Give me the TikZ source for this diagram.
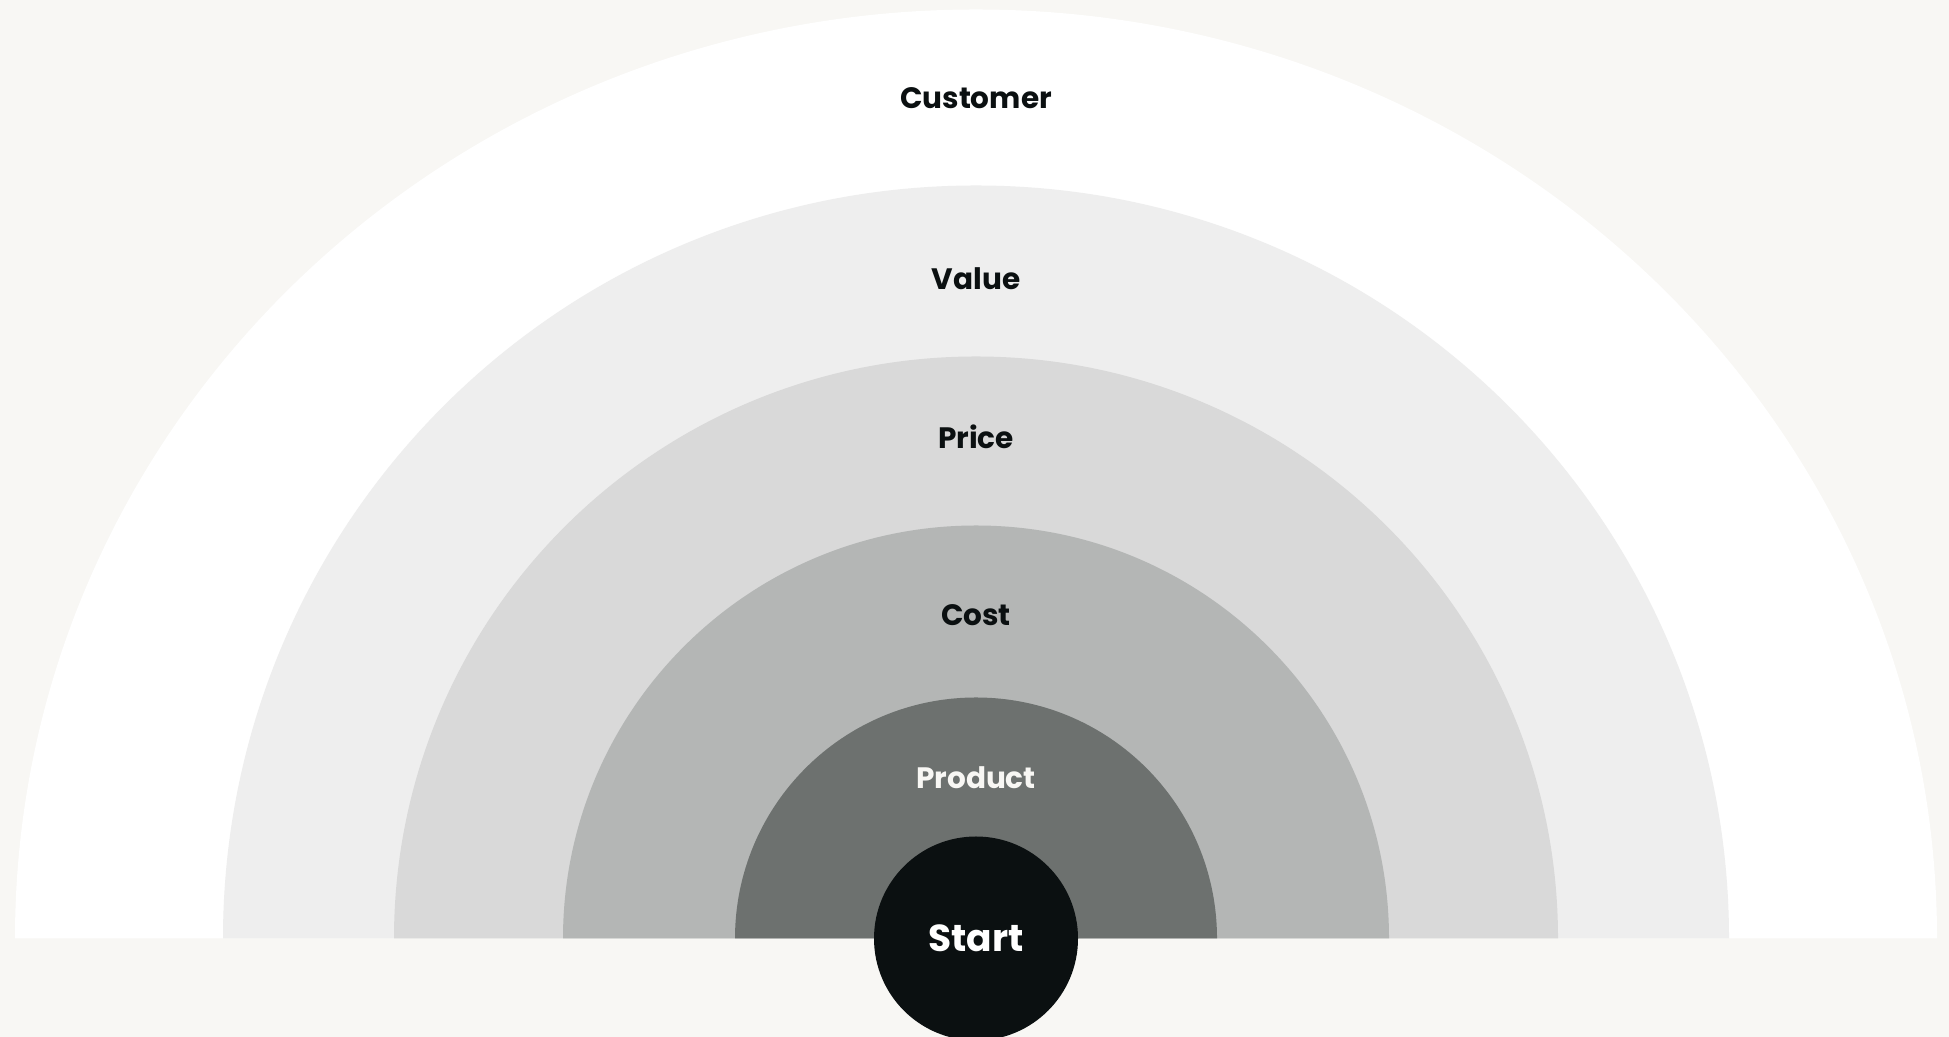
\documentclass[tikz,border=0pt]{standalone}
\usepackage{fontspec}
\setmainfont{Poppins}
\definecolor{paper}{HTML}{F8F7F4}
\definecolor{ringA}{HTML}{FFFFFF}
\definecolor{ringB}{HTML}{EEEEEE}
\definecolor{ringC}{HTML}{D9D9D9}
\definecolor{ringD}{HTML}{B4B6B5}
\definecolor{ringE}{HTML}{6D716F}
\definecolor{core}{HTML}{0B1011}

\begin{document}
\begin{tikzpicture}[
    label/.style={font=\bfseries\fontsize{8.4}{10}\selectfont, text=core},
    startdot/.style={circle, fill=core, minimum size=2.04cm, inner sep=0pt,
      text=white, font=\bfseries\fontsize{10.7}{12}\selectfont}]
    \fill[paper] (0,0) rectangle (19.49,10.37);
    \clip (0,0) rectangle (19.49,10.37);
    \begin{scope}[shift={(9.76,0.985)}]
    % rings, outer first
    \fill[ringA] (-9.61,0) arc[start angle=180,end angle=0,x radius=9.61,y radius=9.29] -- cycle;
    \fill[ringB] (-7.53,0) arc[start angle=180,end angle=0,radius=7.53] -- cycle;
    \fill[ringC] (-5.82,0) arc[start angle=180,end angle=0,radius=5.82] -- cycle;
    \fill[ringD] (-4.13,0) arc[start angle=180,end angle=0,radius=4.13] -- cycle;
    \fill[ringE] (-2.41,0) arc[start angle=180,end angle=0,radius=2.41] -- cycle;
    \node[label] (customer) at (0,8.40) {Customer};
    \node[label] (value) at (0,6.60) {Value};
    \node[label] (price) at (0,5.02) {Price};
    \node[label] (cost) at (0,3.23) {Cost};
    \node[label, text=paper] (product) at (0,1.61) {Product};
    \node[startdot] (start) at (0,0) {Start};
    \end{scope}
\end{tikzpicture}
\end{document}
